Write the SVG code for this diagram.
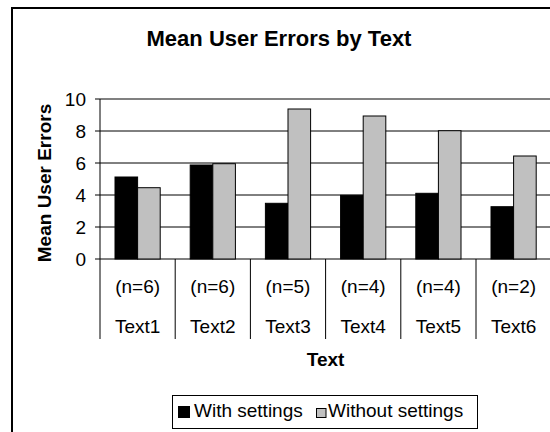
<svg xmlns="http://www.w3.org/2000/svg" width="550" height="432" viewBox="0 0 550 432">
<style>
text{font-family:"Liberation Sans",Arial,sans-serif;fill:#000}
.t{font-size:19px}
.b{font-weight:bold}
.mid{text-anchor:middle}
.end{text-anchor:end}
.grid{stroke:#000;stroke-width:1;fill:none}
.blk{fill:#000;stroke:#000;stroke-width:1}
.gry{fill:#c0c0c0;stroke:#000;stroke-width:1}
.sep{stroke:#000;stroke-width:1}
</style>
<rect x="0" y="0" width="550" height="432" fill="#fff"/>
<rect x="12" y="8" width="570" height="450" fill="#fff" stroke="#000" stroke-width="2"/>
<text id="title" x="279" y="46" class="b mid" font-size="22">Mean User Errors by Text</text>
<g id="gridlines">
<line class="grid" x1="100" y1="131" x2="551" y2="131"/>
<line class="grid" x1="100" y1="163" x2="551" y2="163"/>
<line class="grid" x1="100" y1="195" x2="551" y2="195"/>
<line class="grid" x1="100" y1="227" x2="551" y2="227"/>
<line x1="100" y1="99" x2="551" y2="99" stroke="#808080" stroke-width="2"/>
</g>
<g id="yaxis">
<line class="sep" x1="100" y1="99" x2="100" y2="339"/>
<line class="sep" x1="95" y1="99" x2="100" y2="99"/>
<line class="sep" x1="95" y1="131" x2="100" y2="131"/>
<line class="sep" x1="95" y1="163" x2="100" y2="163"/>
<line class="sep" x1="95" y1="195" x2="100" y2="195"/>
<line class="sep" x1="95" y1="227" x2="100" y2="227"/>
<line class="sep" x1="95" y1="259" x2="100" y2="259"/>
<text class="t end" x="86" y="106">10</text>
<text class="t end" x="86" y="138">8</text>
<text class="t end" x="86" y="170">6</text>
<text class="t end" x="86" y="202">4</text>
<text class="t end" x="86" y="234">2</text>
<text class="t end" x="86" y="266">0</text>
<text class="t b mid" transform="translate(51,183) rotate(-90)">Mean User Errors</text>
</g>
<g id="xaxis">
<line class="sep" x1="100" y1="259" x2="551" y2="259"/>
<line class="sep" x1="175.2" y1="259" x2="175.2" y2="339"/>
<line class="sep" x1="250.4" y1="259" x2="250.4" y2="339"/>
<line class="sep" x1="325.6" y1="259" x2="325.6" y2="339"/>
<line class="sep" x1="400.8" y1="259" x2="400.8" y2="339"/>
<line class="sep" x1="476" y1="259" x2="476" y2="339"/>
<line class="sep" x1="551.2" y1="259" x2="551.2" y2="339"/>
<text class="t b mid" x="325.6" y="366">Text</text>
</g>
<g id="cat1">
<rect class="blk" x="115" y="177" width="22.6" height="82"/>
<rect class="gry" x="137.6" y="187.7" width="22.6" height="71.3"/>
<text class="t mid" x="137.6" y="293">(n=6)</text>
<text class="t mid" x="137.6" y="333">Text1</text>
</g>
<g id="cat2">
<rect class="blk" x="190.2" y="165" width="22.6" height="94"/>
<rect class="gry" x="212.8" y="163.7" width="22.6" height="95.3"/>
<text class="t mid" x="212.8" y="293">(n=6)</text>
<text class="t mid" x="212.8" y="333">Text2</text>
</g>
<g id="cat3">
<rect class="blk" x="265.4" y="203.3" width="22.6" height="55.7"/>
<rect class="gry" x="288" y="109" width="22.6" height="150"/>
<text class="t mid" x="288" y="293">(n=5)</text>
<text class="t mid" x="288" y="333">Text3</text>
</g>
<g id="cat4">
<rect class="blk" x="340.6" y="195.3" width="22.6" height="63.7"/>
<rect class="gry" x="363.2" y="116" width="22.6" height="143"/>
<text class="t mid" x="363.2" y="293">(n=4)</text>
<text class="t mid" x="363.2" y="333">Text4</text>
</g>
<g id="cat5">
<rect class="blk" x="415.8" y="193.3" width="22.6" height="65.7"/>
<rect class="gry" x="438.4" y="130.7" width="22.6" height="128.3"/>
<text class="t mid" x="438.4" y="293">(n=4)</text>
<text class="t mid" x="438.4" y="333">Text5</text>
</g>
<g id="cat6">
<rect class="blk" x="491" y="206.7" width="22.6" height="52.3"/>
<rect class="gry" x="513.6" y="156" width="22.6" height="103"/>
<text class="t mid" x="513.6" y="293">(n=2)</text>
<text class="t mid" x="513.6" y="333">Text6</text>
</g>
<g id="legend">
<rect x="172.5" y="395.5" width="305" height="33" fill="#fff" stroke="#000" stroke-width="1"/>
<rect x="178.5" y="406.5" width="11" height="11" fill="#000" stroke="#000"/>
<text class="t" x="194" y="417">With settings</text>
<rect x="316.5" y="408.5" width="9.5" height="9" fill="#c0c0c0" stroke="#000"/>
<text class="t" x="328" y="417">Without settings</text>
</g>
</svg>
